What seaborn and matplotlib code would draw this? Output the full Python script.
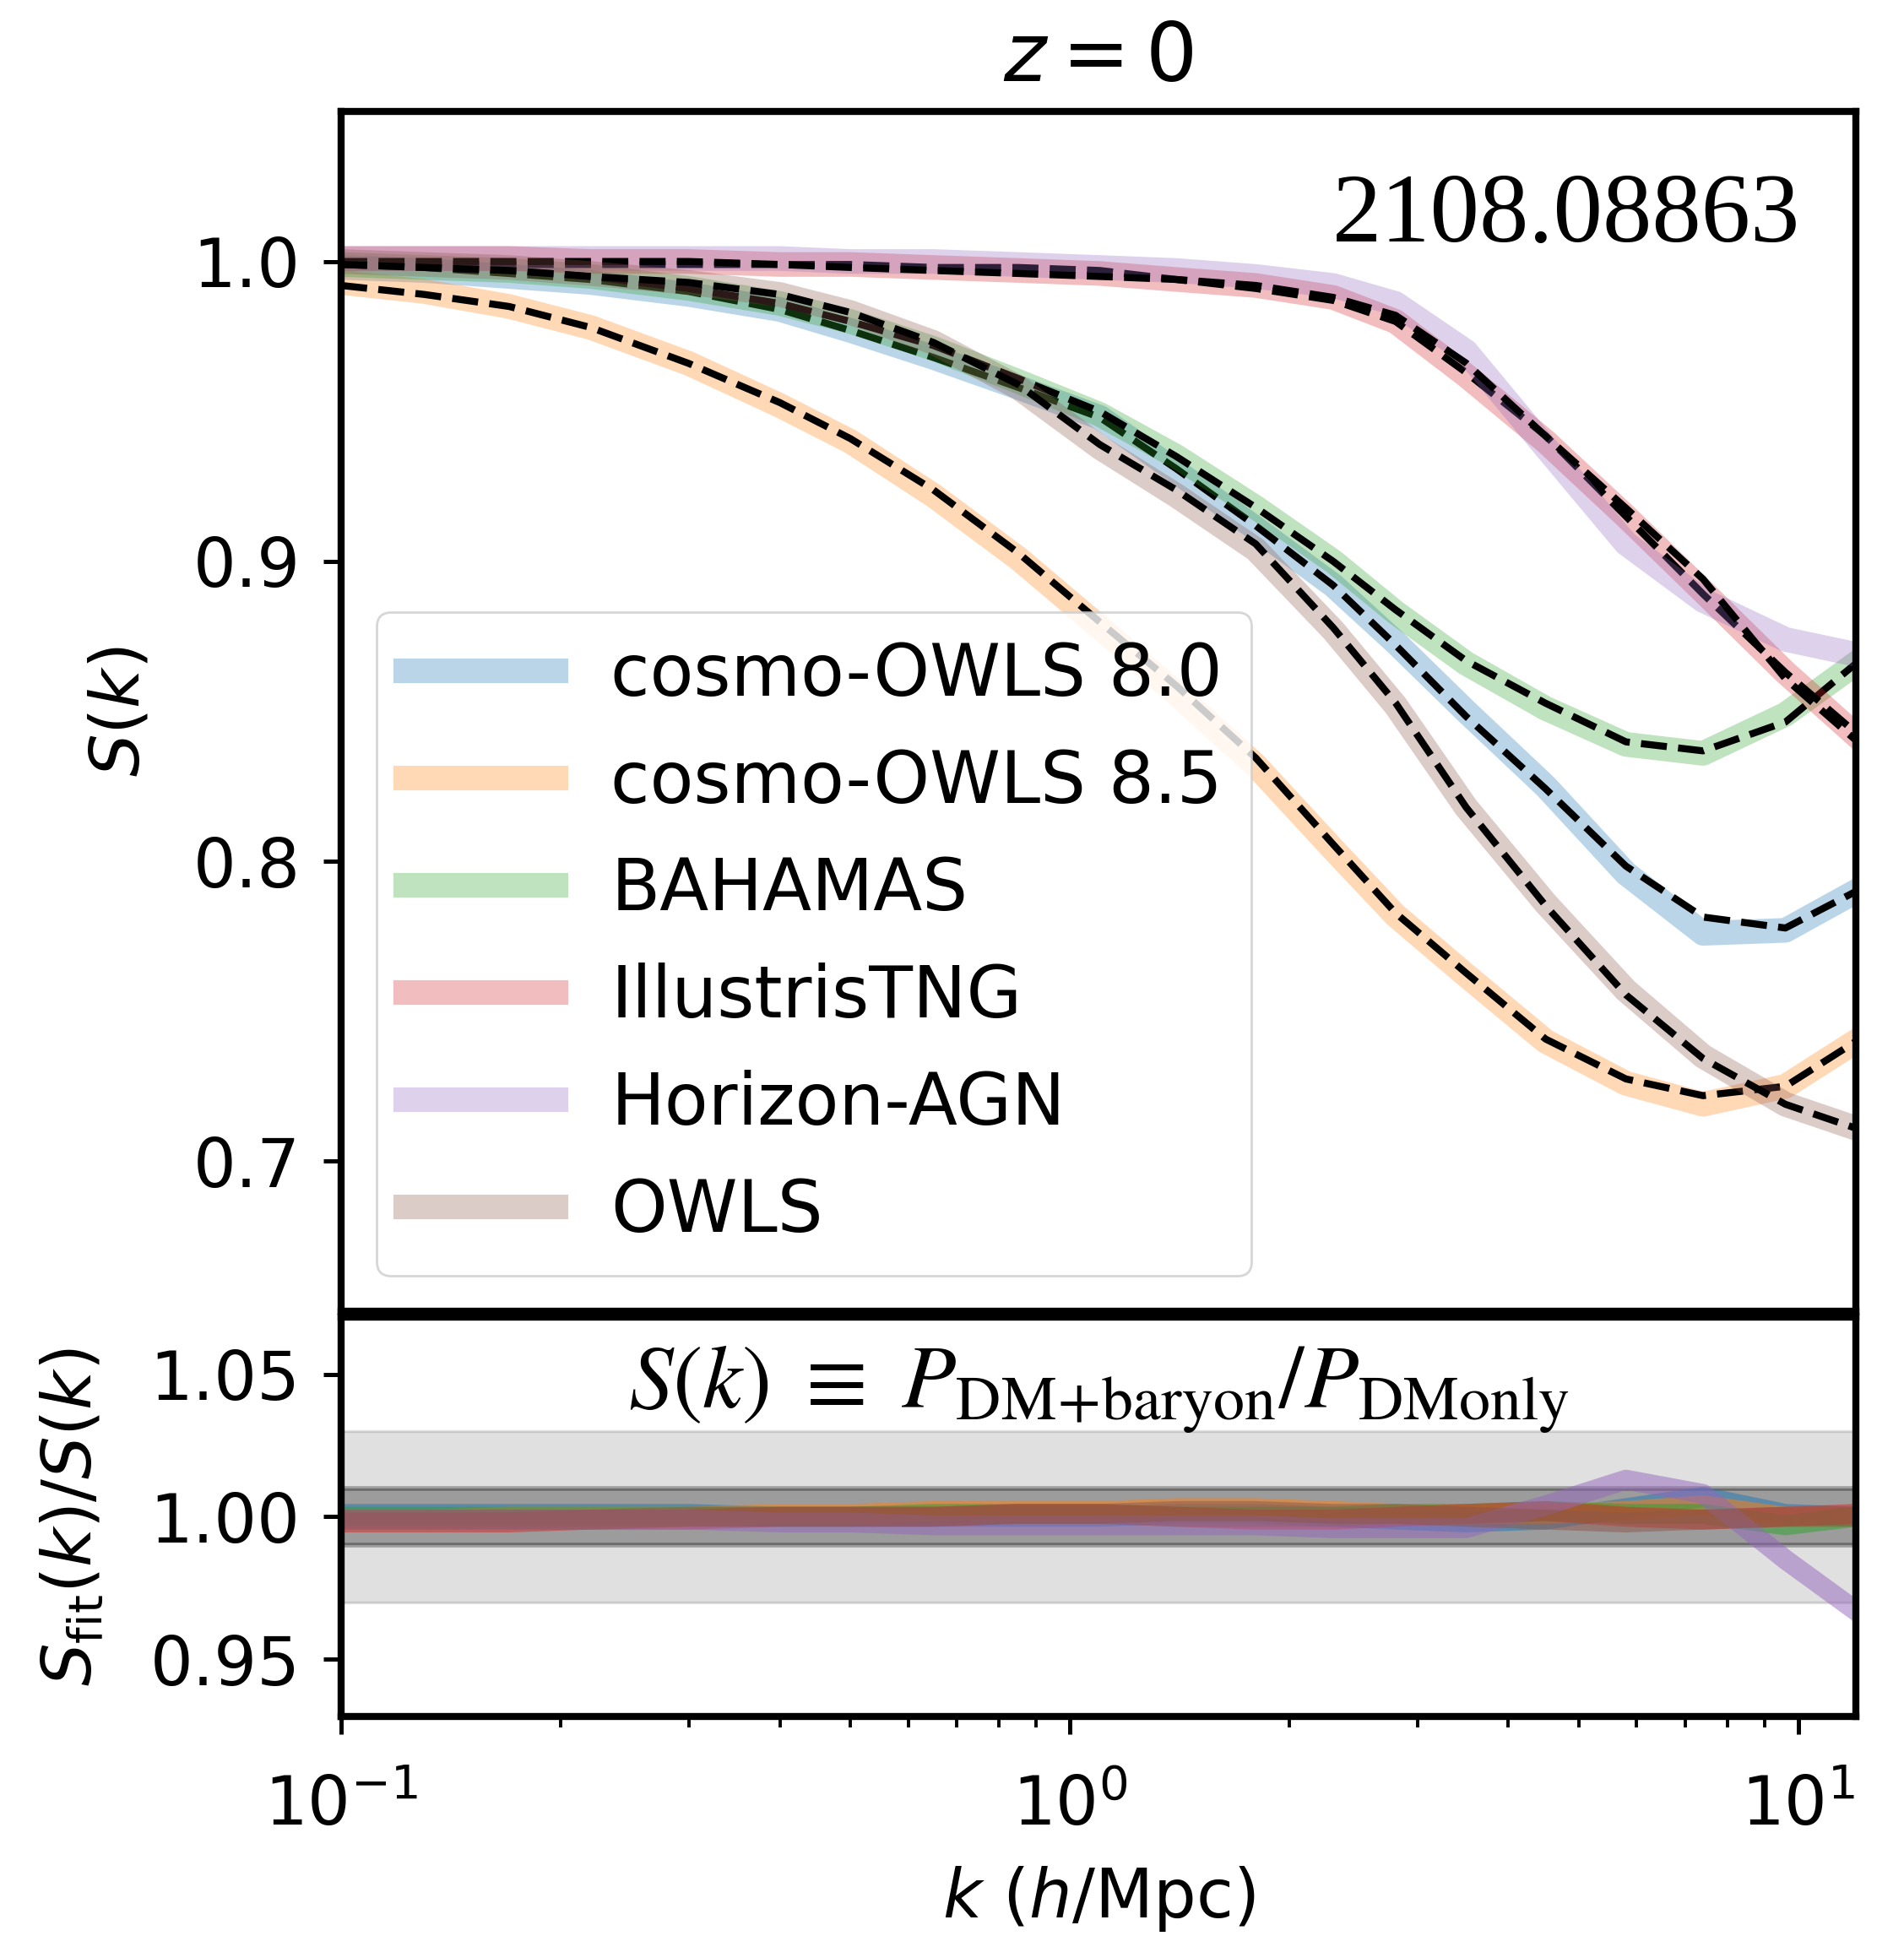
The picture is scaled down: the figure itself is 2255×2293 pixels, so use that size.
import numpy as np
import pandas as pd
import matplotlib
matplotlib.use('Agg')
import matplotlib.pyplot as plt
from matplotlib.lines import Line2D
import seaborn as sns

# wavenumbers (h/Mpc) where the curves were read
k = [0.1, 0.13, 0.17, 0.22, 0.3, 0.4, 0.5, 0.65, 0.85, 1.1,
     1.4, 1.8, 2.3, 2.8, 3.5, 4.5, 5.8, 7.4, 9.6, 12.0]

names = ['cosmo-OWLS 8.0', 'cosmo-OWLS 8.5', 'BAHAMAS', 'IllustrisTNG', 'Horizon-AGN', 'OWLS']

# S(k) of each simulation
s_cowls80 = [0.998, 0.997, 0.995, 0.993, 0.989, 0.984, 0.977, 0.968, 0.958, 0.948,
             0.930, 0.911, 0.892, 0.873, 0.850, 0.825, 0.796, 0.776, 0.777, 0.790]
s_cowls85 = [0.993, 0.990, 0.985, 0.978, 0.966, 0.952, 0.940, 0.922, 0.901, 0.878,
             0.856, 0.832, 0.804, 0.782, 0.762, 0.740, 0.726, 0.719, 0.725, 0.740]
s_bahamas = [0.999, 0.998, 0.997, 0.995, 0.991, 0.986, 0.980, 0.971, 0.960, 0.949,
             0.935, 0.918, 0.900, 0.883, 0.866, 0.851, 0.839, 0.836, 0.849, 0.866]
s_tng = [1.001, 1.001, 1.001, 1.000, 1.000, 0.999, 0.999, 0.998, 0.997, 0.996,
         0.994, 0.992, 0.988, 0.980, 0.962, 0.940, 0.915, 0.890, 0.863, 0.842]
s_hagn = [1.001, 1.001, 1.001, 1.001, 1.001, 1.001, 1.000, 1.000, 0.999, 0.998,
          0.997, 0.995, 0.992, 0.986, 0.970, 0.938, 0.906, 0.887, 0.874, 0.869]
s_owls = [1.000, 0.999, 0.998, 0.996, 0.993, 0.989, 0.983, 0.973, 0.958, 0.938,
          0.922, 0.904, 0.877, 0.852, 0.818, 0.786, 0.757, 0.735, 0.719, 0.711]

# S_fit(k)/S(k) of each simulation
r_cowls80 = [1.001, 1.001, 1.001, 1.001, 1.001, 1.000, 1.000, 1.000, 1.000, 1.000,
             1.001, 1.001, 1.000, 0.999, 0.998, 0.999, 1.003, 1.007, 1.001, 1.000]
r_cowls85 = [0.999, 0.999, 1.000, 1.000, 1.000, 1.001, 1.001, 1.002, 1.002, 1.002,
             1.003, 1.003, 1.002, 1.001, 1.001, 1.001, 1.002, 1.004, 1.000, 1.000]
r_bahamas = [1.000, 1.000, 1.000, 1.000, 1.000, 1.000, 1.000, 1.001, 1.001, 1.001,
             1.000, 1.000, 1.000, 1.001, 1.001, 1.002, 1.001, 1.001, 0.997, 1.000]
r_tng = [0.998, 0.998, 0.998, 0.999, 0.999, 1.000, 1.000, 1.000, 1.001, 1.001,
         1.000, 0.999, 0.999, 1.000, 1.001, 1.002, 1.000, 0.999, 1.000, 1.001]
r_hagn = [0.999, 0.999, 0.999, 0.999, 0.999, 0.998, 0.998, 0.997, 0.997, 0.997,
          0.997, 0.997, 0.996, 0.996, 0.996, 1.004, 1.013, 1.008, 0.985, 0.967]
r_owls = [0.999, 0.999, 0.999, 0.999, 1.000, 1.000, 1.000, 1.000, 1.001, 1.001,
          1.002, 1.002, 1.001, 1.001, 1.000, 0.999, 0.998, 0.999, 1.000, 1.000]

S_all = [s_cowls80, s_cowls85, s_bahamas, s_tng, s_hagn, s_owls]
R_all = [r_cowls80, r_cowls85, r_bahamas, r_tng, r_hagn, r_owls]
colors = sns.color_palette('tab10')[:6]

# long form table, the fit is S times the ratio
df = pd.concat([pd.DataFrame({'k': k, 'S': s, 'ratio': r, 'sim': n})
                for n, s, r in zip(names, S_all, R_all)], ignore_index=True)
df['fit'] = df['S'] * df['ratio']

plt.rcParams['font.family'] = 'DejaVu Sans'
plt.rcParams['axes.linewidth'] = 3.0

fig = plt.figure(figsize=(11.275, 11.465), dpi=200)
ax1 = fig.add_axes([0.1792, 0.3227, 0.7956, 0.6197])
ax2 = fig.add_axes([0.1792, 0.1134, 0.7956, 0.2063])

# upper panel: simulations and fits
for n, c in zip(names, colors):
    d = df[df['sim'] == n]
    sns.lineplot(data=d, x='k', y='S', color=c, lw=10.5, alpha=0.3, ax=ax1, sort=False)
    sns.lineplot(data=d, x='k', y='fit', color='k', lw=3.0, ls='--', ax=ax1, sort=False)

# lower panel: accuracy bands and ratios
ax2.axhspan(0.97, 1.03, color='k', alpha=0.12, lw=1.2)
ax2.axhspan(0.99, 1.01, color='k', alpha=0.3, lw=2.0)
for n, c in zip(names, colors):
    d = df[df['sim'] == n]
    sns.lineplot(data=d, x='k', y='ratio', color=c, lw=8.5, alpha=0.5, ax=ax2, sort=False)

for ax in (ax1, ax2):
    ax.set_xscale('log')
    ax.set_xlim(0.1, 12)
    ax.tick_params(which='major', length=7.5, width=1.8, labelsize=28.8, pad=10)
    ax.tick_params(which='minor', length=4.5, width=1.4)

ax1.set_ylim(0.65, 1.05)
ax1.set_yticks([0.7, 0.8, 0.9, 1.0])
ax1.tick_params(axis='x', which='both', bottom=False, labelbottom=False)
ax1.set_xlabel('')
ax1.set_ylabel(r'$S(k)$', fontsize=28.8)
ax1.yaxis.set_label_coords(-0.124, 0.5)
ax1.set_title(r'$z=0$', fontsize=34.6, pad=13)

ax2.set_ylim(0.93, 1.07)
ax2.set_yticks([0.95, 1.00, 1.05])
ax2.set_yticklabels(['0.95', '1.00', '1.05'])
ax2.tick_params(axis='x', which='major', pad=17)
ax2.set_ylabel(r'$S_{\rm fit}(k)/S(k)$', fontsize=28.8)
ax2.yaxis.set_label_coords(-0.155, 0.5)
ax2.set_xlabel(r'$k$ ($h$/Mpc)', fontsize=28.8)
ax2.xaxis.set_label_coords(0.5, -0.37)

handles = [Line2D([], [], color=c, lw=10.5, alpha=0.3) for c in colors]
ax1.legend(handles, names, loc='lower left', fontsize=30.5, handlelength=2.1,
           labelspacing=0.52, handletextpad=0.77)

ax1.text(0.963, 0.892, '2108.08863', transform=ax1.transAxes, ha='right',
         va='baseline', fontsize=42, family='Liberation Serif')
ax2.text(0.5, 0.82, r'$S(k)\ \equiv\ P_{\mathrm{DM\!+\!baryon}}/P_{\mathrm{DMonly}}$',
         transform=ax2.transAxes, ha='center', va='center', fontsize=38,
         math_fontfamily='stix')

fig.savefig('out.png', dpi=200, facecolor='white')
